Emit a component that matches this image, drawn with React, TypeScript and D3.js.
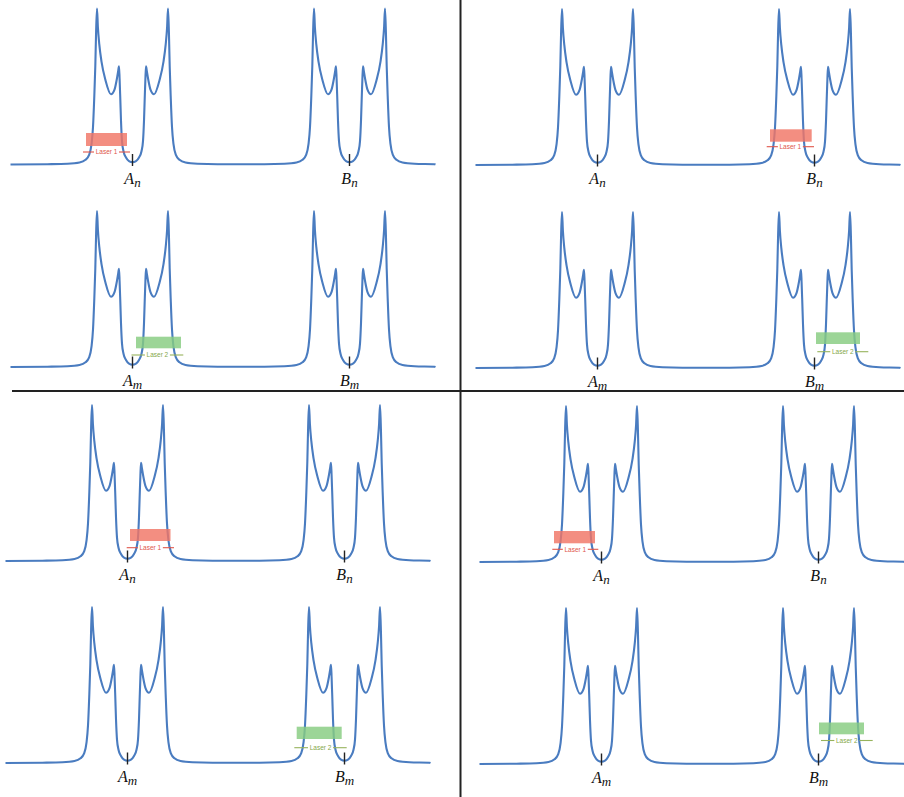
import React from "react";
import * as d3 from "d3";

// Multiplet line shape (offset from multiplet centre in Hz, relative intensity)
const profileOffsets = [
  -85, -65, -53, -47, -43.5, -41, -39.5, -38.3, -37.2, -36.4, -35.5,
  -34.6, -33.2, -31, -27, -21.5, -18, -15.6, -14.3, -13.5,
  -12.9, -12.2, -11.5, -10.5, -9, -6.5, -3.5, 0,
  3.5, 6.5, 9, 10.5, 11.5, 12.2, 12.9,
  13.5, 14.3, 15.6, 18, 21.5, 27, 31, 33.2, 34.6,
  35.5, 36.4, 37.2, 38.3, 39.5, 41, 43.5, 47, 53, 65, 85,
];
const profileIntensities = [
  0.002, 0.005, 0.013, 0.03, 0.06, 0.13, 0.24, 0.42, 0.63, 0.85, 1.0,
  0.88, 0.77, 0.66, 0.54, 0.45, 0.48, 0.55, 0.6, 0.63,
  0.55, 0.42, 0.28, 0.15, 0.085, 0.045, 0.022, 0.015,
  0.022, 0.045, 0.085, 0.15, 0.28, 0.42, 0.55,
  0.63, 0.6, 0.55, 0.48, 0.45, 0.54, 0.66, 0.77, 0.88,
  1.0, 0.85, 0.63, 0.42, 0.24, 0.13, 0.06, 0.03, 0.013, 0.005, 0.002,
];

// Two multiplets per spectrum, and the recorded window (Hz)
const multipletNames = ["A", "B"];
const multipletShifts = [0, 217];
const spectrumRange = [-122, 303];
const rowSubscripts = ["n", "m"];

// Irradiation bands: row 0 = Laser 1, row 1 = Laser 2 (Hz from the target centre)
const laserNames = ["Laser 1", "Laser 2"];
const laserTargets = [
  ["A", "A"],
  ["B", "B"],
  ["A", "B"],
  ["A", "B"],
];
const laserBands = [
  [[-46.5, -5.5], [3.5, 48.5]],
  [[-44.5, -2.8], [1.5, 45.5]],
  [[2.5, 43], [-47.8, -2.8]],
  [[-47.5, -6.5], [0.5, 45.5]],
];
const laserBrackets = [
  [[-49.5, -2.5], [-1, 50.8]],
  [[-47.8, -0.5], [2.8, 53.8]],
  [[-0.8, 46.5], [-50.2, 2.2]],
  [[-49.2, -3.2], [2.5, 54.2]],
];

// Layout of the four panels
const W = 904;
const H = 797;
const PEAK_HEIGHT = 156;
const panels = [
  { cx: 132.5, baselines: [164.5, 367], lifts: [[18.5, 31.5, 12.5], [18.7, 30.3, 12]] },
  { cx: 597.5, baselines: [165, 368], lifts: [[23.3, 35.7, 18.3], [24, 35.7, 16.3]] },
  { cx: 127.5, baselines: [561, 763], lifts: [[20, 32, 13.3], [24, 36.3, 15.3]] },
  { cx: 601.5, baselines: [562, 764], lifts: [[18.7, 31, 12.7], [29.7, 41.5, 23.5]] },
];

const LINE_COLOR = "#4a7cc0";
const laserStyles = [
  { fill: "#f07565", line: "#e0564a", text: "#e0564a" },
  { fill: "#86cc80", line: "#97b35c", text: "#85a84a" },
];

function buildSpectrum() {
  const pts: [number, number][] = [[spectrumRange[0], 0]];
  multipletShifts.forEach((s) => {
    profileOffsets.forEach((o, i) => pts.push([s + o, profileIntensities[i]]));
  });
  pts.push([spectrumRange[1], 0]);
  return pts;
}

const spectrum = buildSpectrum();

function Spectrum({ panel, row, pi }: { panel: typeof panels[number]; row: number; pi: number }) {
  const base = panel.baselines[row];
  const x = d3
    .scaleLinear()
    .domain(spectrumRange)
    .range([panel.cx + spectrumRange[0], panel.cx + spectrumRange[1]]);
  const y = d3.scaleLinear().domain([0, 1]).range([base, base - PEAK_HEIGHT]);
  const line = d3
    .line<[number, number]>()
    .x((d) => x(d[0]))
    .y((d) => y(d[1]))
    .curve(d3.curveMonotoneX);

  const target = laserTargets[pi][row];
  const tShift = multipletShifts[multipletNames.indexOf(target)];
  const band = laserBands[pi][row];
  const bracket = laserBrackets[pi][row];
  const [rb, rt, lineLift] = panel.lifts[row];
  const style = laserStyles[row];
  const bx0 = x(tShift + bracket[0]);
  const bx1 = x(tShift + bracket[1]);
  const bmid = (bx0 + bx1) / 2;
  const gap = 12.5;
  const ly = base - lineLift;

  return (
    <g>
      <path d={line(spectrum) ?? ""} fill="none" stroke={LINE_COLOR} strokeWidth={2.1} strokeLinejoin="round" />
      {multipletNames.map((name, k) => {
        const cx = x(multipletShifts[k]);
        return (
          <g key={name}>
            <line x1={cx} x2={cx} y1={base + 1.5} y2={base - 10.5} stroke="#222" strokeWidth={1.4} />
            <text
              x={cx}
              y={base + 19}
              textAnchor="middle"
              fontFamily="'Liberation Serif', 'DejaVu Serif', serif"
              fontStyle="italic"
              fontSize={16}
              fill="#111"
            >
              {name}
              <tspan dy={3} fontSize={13}>
                {rowSubscripts[row]}
              </tspan>
            </text>
          </g>
        );
      })}
      <rect
        x={x(tShift + band[0])}
        width={x(tShift + band[1]) - x(tShift + band[0])}
        y={base - rt}
        height={rt - rb}
        fill={style.fill}
        fillOpacity={0.82}
      />
      <line x1={bx0} x2={bmid - gap} y1={ly} y2={ly} stroke={style.line} strokeWidth={1.1} />
      <line x1={bmid + gap} x2={bx1} y1={ly} y2={ly} stroke={style.line} strokeWidth={1.1} />
      <text
        x={bmid}
        y={ly + 2.2}
        textAnchor="middle"
        fontFamily="Arial, 'Liberation Sans', sans-serif"
        fontSize={6.5}
        fill={style.text}
      >
        {laserNames[row]}
      </text>
    </g>
  );
}

export default function App() {
  return (
    <svg
      width={W}
      height={H}
      style={{ position: "absolute", left: 0, top: 0, background: "#fff" }}
    >
      <rect width={W} height={H} fill="#fff" />
      {panels.map((p, pi) => (
        <g key={pi}>
          {[0, 1].map((row) => (
            <Spectrum key={row} panel={p} row={row} pi={pi} />
          ))}
        </g>
      ))}
      <line x1={12} x2={W} y1={391} y2={391} stroke="#222" strokeWidth={2} />
      <line x1={460.5} x2={460.5} y1={0} y2={H} stroke="#222" strokeWidth={2} />
    </svg>
  );
}
